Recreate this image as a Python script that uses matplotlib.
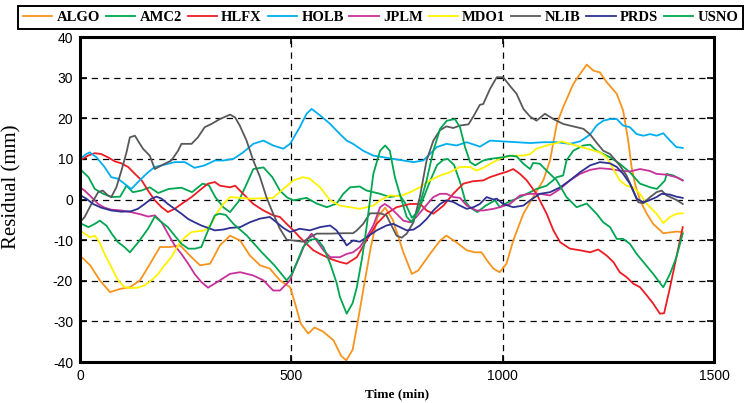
import matplotlib
matplotlib.use("Agg")
import matplotlib.pyplot as plt
from matplotlib.lines import Line2D

plt.rcParams["axes.unicode_minus"] = False

# ---- residual time series (time in minutes, residual in mm) ----
algo_t = [0, 24, 47, 71, 95, 118, 142, 166, 189, 213, 237, 260, 284, 308, 331, 355, 379, 402, 426, 449,
          473, 497, 510, 522, 540, 555, 575, 600, 618, 630, 645, 655, 670, 688, 704, 722, 740, 765, 785, 800,
          828, 852, 867, 890, 915, 935, 950, 963, 978, 993, 1009, 1025, 1049, 1072, 1096, 1112, 1128, 1143,
          1167, 1183, 1199, 1215, 1230, 1246, 1270, 1285, 1297, 1305, 1313, 1325, 1341, 1356, 1380, 1396,
          1411, 1426]
algo_v = [-13.8, -16.2, -19.9, -22.8, -22.0, -21.6, -19.9, -15.8, -11.7, -11.7, -11.3, -13.8, -16.2, -15.8,
          -11.3, -8.9, -10.1, -13.8, -16.2, -17.0, -19.9, -21.6, -26.0, -30.5, -33.0, -31.5, -32.5, -34.7,
          -38.5, -39.6, -37.0, -31.4, -22.4, -11.7, -4.3, -2.0, -5.0, -13.0, -18.3, -17.5, -13.4, -10.1,
          -8.9, -10.5, -12.5, -13.0, -13.0, -15.0, -17.0, -17.9, -15.8, -10.1, -3.5, 0.6, 4.7, 9.6, 18.6,
          22.7, 28.4, 30.9, 33.2, 31.7, 31.3, 28.9, 26.0, 21.9, 14.5, 8.0, 3.9, -0.2, -3.5, -6.0, -8.3,
          -8.1, -7.9, -8.0]

amc2_t = [0, 20, 35, 55, 75, 95, 110, 125, 145, 165, 185, 210, 240, 265, 290, 305, 320, 340, 355, 375,
          395, 410, 434, 455, 473, 490, 505, 536, 560, 584, 607, 623, 639, 662, 678, 694, 710, 733, 757,
          770, 785, 800, 815, 830, 845, 860, 870, 885, 900, 912, 923, 940, 960, 982, 993, 1010, 1041, 1065,
          1080, 1104, 1128, 1143, 1151, 1167, 1191, 1207, 1222, 1238, 1254, 1277, 1301, 1325, 1349, 1365,
          1384, 1388, 1404, 1426]
amc2_v = [7.5, 5.5, 2.6, 1.4, 0.6, 0.7, 3.4, 1.8, 2.2, 3.0, 1.6, 2.6, 2.9, 1.8, 3.9, 3.5, 0.6, -2.0, -3.1,
          -0.5, 4.0, 7.5, 7.9, 5.5, 2.2, 0.5, -0.2, 0.4, -1.0, -1.9, -1.0, 1.4, 3.0, 3.2, 2.2, 1.8, 1.4,
          0.6, 1.0, -1.0, -4.5, -3.0, 1.0, 5.0, 8.5, 9.8, 10.0, 8.5, 4.0, -0.5, -2.0, -3.1, -1.5, -0.2,
          -1.9, -0.8, 0.6, 1.8, 2.6, 3.4, 5.5, 5.9, 9.6, 12.0, 13.3, 13.5, 12.0, 11.2, 10.4, 8.8, 6.7, 3.9,
          3.0, 2.6, 4.7, 6.3, 5.9, 4.7]

hlfx_t = [0, 19, 35, 50, 66, 82, 98, 114, 130, 146, 161, 177, 193, 208, 224, 240, 264, 287, 303, 319,
          331, 355, 367, 386, 410, 434, 457, 473, 489, 505, 520, 536, 552, 568, 592, 615, 631, 655, 678,
          702, 725, 749, 781, 805, 820, 836, 860, 883, 907, 930, 954, 970, 993, 1009, 1025, 1041, 1057,
          1080, 1104, 1120, 1136, 1159, 1183, 1207, 1226, 1246, 1262, 1277, 1293, 1309, 1325, 1341, 1356,
          1372, 1382, 1396, 1411, 1426]
hlfx_v = [9.6, 10.8, 11.4, 11.2, 10.4, 9.4, 8.9, 8.0, 6.3, 4.7, 2.2, -0.2, -1.9, -3.1, -2.3, -1.1, 0.6,
          2.6, 3.9, 4.3, 3.4, 3.0, 3.4, 1.4, -1.1, -2.7, -3.9, -4.3, -6.0, -7.6, -9.3, -10.9, -12.5, -13.4,
          -14.6, -15.4, -15.8, -14.2, -10.0, -6.0, -3.5, -1.9, -1.1, -1.1, -2.7, -3.5, -1.5, 1.4, 3.9, 4.5,
          4.7, 5.5, 6.3, 6.8, 7.5, 6.3, 4.7, 1.4, -3.5, -7.6, -10.5, -12.1, -12.5, -13.0, -12.3, -13.8,
          -15.4, -17.9, -19.1, -20.7, -21.6, -23.6, -25.6, -28.1, -28.0, -21.6, -14.2, -6.8]

holb_t = [0, 15, 23, 39, 58, 74, 90, 105, 121, 129, 145, 161, 177, 201, 224, 248, 271, 295, 319, 339, 363,
          386, 410, 434, 457, 481, 497, 520, 536, 548, 568, 592, 615, 631, 646, 670, 694, 718, 741, 765,
          789, 812, 828, 844, 867, 891, 915, 938, 946, 970, 1001, 1033, 1065, 1096, 1128, 1159, 1183,
          1207, 1222, 1238, 1254, 1270, 1285, 1301, 1317, 1333, 1349, 1364, 1380, 1396, 1411, 1426]
holb_v = [10.0, 11.2, 11.6, 10.4, 8.0, 5.5, 5.1, 3.9, 2.6, 3.4, 5.1, 6.7, 8.0, 8.6, 9.2, 9.2, 7.8, 8.4,
          9.6, 9.6, 10.0, 11.6, 13.7, 14.5, 13.3, 12.5, 13.7, 17.8, 21.1, 22.3, 20.7, 18.6, 16.1, 14.5,
          13.7, 12.0, 10.8, 10.4, 10.0, 9.6, 9.2, 9.6, 11.2, 12.9, 13.7, 13.3, 14.1, 13.3, 13.0, 14.5,
          14.3, 14.1, 13.9, 14.1, 14.1, 13.7, 14.3, 16.0, 18.2, 19.4, 19.8, 19.8, 18.2, 17.8, 16.1, 15.7,
          16.1, 15.7, 16.3, 14.5, 12.9, 12.7]

jplm_t = [0, 11, 27, 43, 58, 74, 98, 121, 145, 161, 177, 193, 208, 224, 240, 256, 271, 287, 303, 331,
          355, 379, 410, 434, 457, 473, 497, 505, 520, 536, 548, 576, 592, 615, 631, 646, 662, 678, 694,
          710, 721, 733, 749, 765, 781, 796, 812, 836, 852, 867, 883, 899, 915, 938, 954, 978, 993, 1017,
          1041, 1065, 1088, 1112, 1136, 1159, 1183, 1207, 1230, 1254, 1277, 1301, 1325, 1349, 1364, 1388,
          1411, 1426]
jplm_v = [3.0, 2.2, 0.6, -1.1, -2.0, -2.5, -2.7, -3.1, -3.7, -4.2, -3.9, -5.6, -8.4, -11.3, -13.4, -15.8,
          -18.3, -20.3, -21.7, -19.9, -18.3, -17.9, -18.7, -19.9, -22.4, -22.4, -19.9, -17.5, -14.0,
          -10.0, -8.4, -12.5, -14.2, -14.2, -13.4, -13.0, -11.7, -9.3, -6.4, -1.9, -1.1, -1.9, -3.5, -5.2,
          -5.6, -4.3, -2.3, 0.6, 1.4, 1.4, 0.6, 0.4, -1.5, -2.7, -2.7, -2.3, -1.9, -1.1, 1.0, 1.4, 1.4,
          1.0, 2.6, 4.7, 6.3, 7.3, 7.7, 7.5, 7.1, 6.9, 7.5, 7.0, 6.3, 6.1, 5.5, 4.7]

mdo1_t = [0, 11, 23, 35, 46, 58, 74, 90, 106, 121, 137, 153, 169, 185, 200, 216, 232, 248, 264, 280, 295,
          311, 323, 339, 355, 379, 402, 434, 457, 481, 505, 528, 544, 568, 592, 615, 639, 662, 678, 694,
          710, 733, 757, 781, 804, 828, 852, 875, 899, 923, 938, 954, 978, 1001, 1025, 1049, 1065, 1080,
          1104, 1128, 1139, 1159, 1183, 1207, 1230, 1246, 1262, 1277, 1293, 1309, 1325, 1341, 1364, 1380,
          1396, 1411, 1426]
mdo1_v = [-7.6, -8.4, -9.3, -8.9, -10.5, -13.4, -16.6, -19.9, -21.6, -21.8, -21.7, -21.1, -19.9, -18.3,
          -16.2, -14.2, -11.3, -9.3, -8.0, -7.8, -7.6, -6.0, -3.5, -1.1, 0.6, 0.4, 0.2, 0.3, 0.4, 2.6, 4.7,
          5.5, 5.1, 3.0, -0.2, -1.5, -1.9, -2.3, -1.9, -1.5, -0.2, 1.0, 0.8, 1.8, 3.0, 4.7, 5.9, 6.7, 8.0,
          8.0, 7.1, 7.8, 9.2, 10.4, 10.8, 10.8, 11.2, 12.5, 13.3, 13.9, 14.3, 13.7, 13.0, 12.3, 11.6,
          10.4, 7.5, 4.7, 3.4, 3.0, 1.4, -1.1, -3.5, -5.8, -4.3, -3.5, -3.4]

nlib_t = [0, 11, 27, 43, 54, 66, 74, 86, 98, 110, 118, 130, 137, 149, 165, 177, 193, 216, 232, 240, 264,
          279, 295, 311, 331, 355, 367, 378, 394, 410, 426, 441, 457, 473, 489, 513, 528, 544, 560, 592,
          623, 646, 655, 670, 686, 710, 725, 737, 749, 761, 773, 789, 804, 820, 836, 852, 867, 883, 899,
          919, 931, 946, 954, 970, 986, 1001, 1017, 1033, 1049, 1065, 1080, 1100, 1120, 1143, 1167, 1191,
          1207, 1222, 1238, 1254, 1277, 1293, 1309, 1321, 1333, 1349, 1364, 1376, 1388, 1411, 1426]
nlib_v = [-5.6, -4.3, -1.1, 1.8, 2.2, 1.0, 0.6, 3.0, 7.1, 11.6, 15.3, 15.7, 14.5, 12.5, 10.8, 7.5, 8.4,
          9.6, 12.0, 13.7, 13.7, 15.3, 17.8, 18.6, 19.8, 20.9, 20.2, 18.2, 14.5, 9.6, 5.5, 0.6, -3.5, -7.2,
          -9.9, -10.2, -10.4, -9.3, -8.4, -8.4, -8.3, -8.3, -7.6, -6.0, -3.4, -3.4, -3.9, -6.4, -8.9, -9.4,
          -8.4, -5.6, 0.6, 9.6, 14.5, 17.1, 18.0, 17.6, 18.2, 18.5, 20.5, 23.3, 23.5, 27.2, 30.1, 30.1,
          28.0, 26.0, 22.3, 20.4, 19.4, 21.1, 19.8, 18.6, 18.0, 17.4, 16.0, 14.0, 12.0, 11.2, 8.4, 5.9,
          2.2, -0.7, -0.9, 0.6, 1.8, 2.2, 1.0, -0.1, -1.1]

prds_t = [0, 15, 31, 50, 74, 98, 121, 137, 153, 169, 181, 193, 208, 224, 240, 256, 271, 287, 303, 319,
          339, 355, 379, 402, 426, 449, 465, 481, 497, 520, 544, 568, 592, 607, 623, 631, 646, 662, 678,
          702, 725, 741, 757, 773, 789, 804, 820, 836, 852, 867, 883, 899, 915, 931, 946, 962, 978, 986,
          1001, 1025, 1049, 1065, 1088, 1112, 1136, 1159, 1183, 1207, 1230, 1254, 1270, 1285, 1301, 1317,
          1333, 1349, 1364, 1376, 1396, 1411, 1426]
prds_v = [1.1, 0.2, -1.1, -2.0, -2.7, -3.0, -2.9, -2.3, -1.1, 0.2, 0.7, 0.2, -1.1, -2.3, -3.5, -4.8,
          -5.6, -6.4, -7.0, -7.6, -7.4, -7.0, -6.8, -5.6, -4.7, -4.3, -5.6, -7.0, -8.0, -7.2, -7.6, -6.8,
          -6.4, -7.6, -10.0, -11.3, -10.1, -10.4, -9.3, -7.6, -6.4, -6.0, -6.8, -7.6, -7.4, -6.4, -4.8,
          -2.7, -1.1, -0.2, -0.6, -1.5, -2.3, -1.9, -1.1, 0.6, 0.0, 0.2, -1.1, -1.9, -1.5, -0.2, 1.4, 1.8,
          3.0, 4.7, 6.7, 8.4, 9.2, 8.9, 8.0, 6.3, 3.9, 0.2, -0.7, -0.1, 0.6, 1.4, 1.2, 0.7, 0.4]

usno_t = [0, 20, 35, 47, 63, 75, 90, 105, 118, 138, 161, 177, 193, 208, 224, 240, 256, 272, 287, 303,
          319, 330, 345, 363, 395, 430, 460, 489, 500, 505, 528, 545, 560, 576, 592, 607, 615, 631, 645,
          655, 668, 678, 694, 710, 722, 733, 745, 761, 773, 785, 800, 820, 836, 852, 868, 887, 899, 911,
          923, 935, 954, 970, 1001, 1017, 1033, 1049, 1065, 1072, 1088, 1104, 1128, 1151, 1175, 1199,
          1222, 1238, 1254, 1270, 1285, 1301, 1317, 1333, 1356, 1380, 1396, 1411, 1426]
usno_v = [-5.8, -6.8, -6.0, -5.2, -6.5, -8.4, -10.5, -11.7, -13.0, -10.5, -7.2, -4.2, -5.6, -6.8, -8.9,
          -10.9, -12.1, -12.1, -11.7, -7.6, -3.9, -3.5, -3.8, -6.0, -8.9, -13.0, -16.2, -19.9, -18.5,
          -17.5, -11.7, -9.9, -9.7, -11.7, -15.8, -20.5, -24.0, -28.1, -25.5, -21.6, -14.0, -6.8, 6.3,
          12.0, 13.3, 12.0, 5.5, -0.2, -4.3, -5.6, -2.7, 4.7, 12.0, 17.4, 19.4, 19.8, 17.8, 12.9, 9.2, 8.4,
          9.6, 10.0, 10.4, 10.8, 10.6, 8.8, 7.5, 9.0, 8.8, 7.1, 4.7, 0.6, -1.9, -1.0, -3.5, -5.6, -6.8,
          -9.7, -9.7, -10.9, -13.4, -15.4, -18.3, -21.6, -18.3, -14.2, -8.4]

stations = ["ALGO", "AMC2", "HLFX", "HOLB", "JPLM", "MDO1", "NLIB", "PRDS", "USNO"]
series = [(algo_t, algo_v), (amc2_t, amc2_v), (hlfx_t, hlfx_v), (holb_t, holb_v), (jplm_t, jplm_v),
          (mdo1_t, mdo1_v), (nlib_t, nlib_v), (prds_t, prds_v), (usno_t, usno_v)]
colors = ["#F7941D", "#00A651", "#ED1C24", "#00AEEF", "#C8309A",
          "#FFF200", "#58595B", "#2E3192", "#00A651"]

x_ticks = [0, 500, 1000, 1500]
y_ticks = [-40, -30, -20, -10, 0, 10, 20, 30, 40]

fig = plt.figure(figsize=(7.49, 4.03), dpi=100)
ax = fig.add_axes([80 / 749, 1 - 362 / 403, 634 / 749, 325 / 403])

for name, (t, v), c in zip(stations, series, colors):
    ax.plot(t, v, color=c, linewidth=1.3, label=name, solid_joinstyle="round")

ax.set_xlim(0, 1500)
ax.set_ylim(-40, 40)
ax.set_xticks(x_ticks)
ax.set_yticks(y_ticks)
ax.grid(True, color="black", linestyle=(0, (5, 4)), linewidth=0.9)
ax.set_axisbelow(True)
for s in ax.spines.values():
    s.set_linewidth(2.2)
    s.set_zorder(5)
ax.tick_params(direction="in", length=5, width=1.2, top=True, right=True,
               labelsize=10, pad=5)
for lab in ax.get_xticklabels() + ax.get_yticklabels():
    lab.set_fontfamily("Liberation Sans")

ax.set_xlabel("Time (min)", fontfamily="Liberation Serif", fontweight="bold", fontsize=9.5)
ax.xaxis.set_label_coords(0.5, -0.082)
ax.set_ylabel("Residual (mm)", fontfamily="Liberation Serif", fontsize=15)
ax.yaxis.set_label_coords(-0.093, 0.54)

handles = [Line2D([], [], color=c, linewidth=1.3) for c in colors]
leg = fig.legend(handles, stations, ncol=9, loc="upper left",
                 bbox_to_anchor=(18 / 749, 1 - 6 / 403), borderaxespad=0,
                 prop={"family": "Liberation Serif", "weight": "bold", "size": 10.5},
                 frameon=True, fancybox=False, edgecolor="black", framealpha=1,
                 handlelength=2.0, handletextpad=0.3, columnspacing=0.4,
                 borderpad=0.35)
leg.get_frame().set_linewidth(1.4)

fig.savefig("out.png", dpi=100)
